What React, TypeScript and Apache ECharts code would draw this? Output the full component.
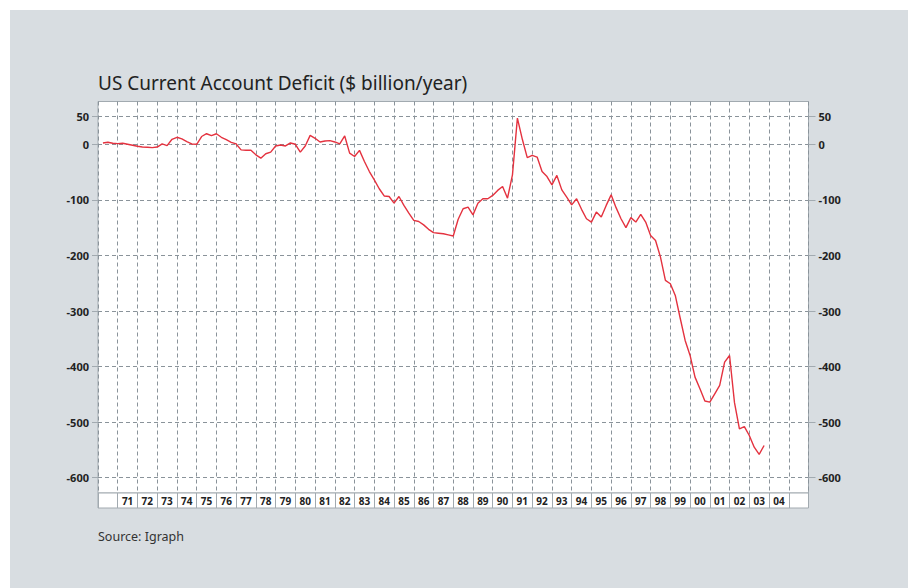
import React, { useEffect, useRef } from "react";
import * as echarts from "echarts";

// Quarterly US current account balance, $ billion/year (annualised), 1970 Q1 .. 2003 Q3
const START_YEAR = 1970;
const deficitQuarterly: number[] = [
  2.4, 3.6, 1.8, 1.2, 1.8, 0, -1.8, -3.6, -4.8, -5.4,
  -6, -5, 0.6, -2.4, 9, 12.6, 9.6, 4.8, 0.6, 0,
  14, 19, 15.6, 19, 12.6, 8.4, 3.6, 0.6, -10, -10.8,
  -10.8, -19, -25, -17, -14, -3, -1.2, -3, 2.4, 0,
  -14, -3, 16, 10.8, 4.2, 6, 6.6, 4.2, 0.6, 15,
  -16, -22, -11, -31, -49, -64, -80, -93, -94, -106,
  -94, -110, -124, -137, -139, -145, -153, -159, -160, -161,
  -163, -165, -135, -116, -113, -127, -106, -98, -98, -92,
  -83, -76, -97, -55, 47, 9, -24, -20, -23, -49,
  -58, -73, -56, -82, -95, -109, -98, -117, -134, -140,
  -122, -131, -110, -91, -114, -134, -150, -132, -140, -126,
  -140, -164, -173, -203, -245, -251, -272, -313, -353, -380,
  -419, -440, -462, -464, -449, -434, -392, -380, -465, -512,
  -508, -524, -545, -558, -542,
];

const yTickValues = [50, 0, -100, -200, -300, -400, -500, -600];
const yearLabels = [
  "", "71", "72", "73", "74", "75", "76", "77", "78", "79", "80",
  "81", "82", "83", "84", "85", "86", "87", "88", "89", "90",
  "91", "92", "93", "94", "95", "96", "97", "98", "99", "00",
  "01", "02", "03", "04", "",
];

const Y_MIN = -627.5;
const Y_MAX = 77;
const X_MIN = 1970;
const X_MAX = 2006;

export default function App() {
  const ref = useRef<HTMLDivElement>(null);

  useEffect(() => {
    if (!ref.current) return;
    const chart = echarts.init(ref.current, undefined, { renderer: "svg" });
    const gridColor = "#8a939a";
    const borderColor = "#a2aab0";
    const labelStyle = {
      color: "#222",
      fontSize: 11,
      fontWeight: "bold" as const,
      fontFamily: "Noto Sans",
    };
    const seriesData = deficitQuarterly.map((v, i) => [START_YEAR + (i + 1) / 4, v]);

    chart.setOption({
      animation: false,
      backgroundColor: "transparent",
      title: {
        text: "US Current Account Deficit ($ billion/year)",
        left: 98,
        top: 73,
        padding: 0,
        textStyle: {
          color: "#222",
          fontSize: 19,
          fontWeight: "normal",
          fontFamily: "Noto Sans",
        },
      },
      graphic: [
        {
          type: "text",
          left: 98,
          top: 530,
          style: {
            text: "Source: Igraph",
            fill: "#333",
            font: "12.5px 'Noto Sans'",
          },
        },
      ],
      grid: [
        {
          left: 98,
          top: 101.5,
          width: 710.5,
          height: 391.5,
          show: true,
          backgroundColor: "#ffffff",
          borderColor: borderColor,
          borderWidth: 1,
        },
        {
          left: 98,
          top: 493,
          width: 710.5,
          height: 15,
          show: true,
          backgroundColor: "#ffffff",
          borderColor: borderColor,
          borderWidth: 1,
        },
      ],
      xAxis: [
        {
          type: "value",
          gridIndex: 0,
          min: X_MIN,
          max: X_MAX,
          interval: 1,
          axisLine: { show: false },
          axisTick: { show: false },
          axisLabel: { show: false },
          splitLine: {
            show: true,
            lineStyle: { color: gridColor, type: [4, 3], width: 1 },
          },
        },
        {
          type: "category",
          gridIndex: 1,
          position: "top",
          data: yearLabels,
          boundaryGap: true,
          axisLine: { show: false },
          axisTick: { show: false },
          axisLabel: {
            inside: true,
            interval: 0,
            margin: 2.5,
            color: "#222",
            fontSize: 10,
            fontWeight: "bold",
            fontFamily: "Noto Sans",
          },
          splitLine: {
            show: true,
            interval: 0,
            lineStyle: { color: borderColor, type: "solid", width: 1 },
          },
        },
      ],
      yAxis: [
        {
          type: "value",
          gridIndex: 0,
          position: "left",
          min: Y_MIN,
          max: Y_MAX,
          axisLine: { show: false },
          axisTick: {
            show: true,
            length: 6,
            customValues: yTickValues,
            lineStyle: { color: borderColor },
          },
          axisLabel: {
            ...labelStyle,
            margin: 9,
            customValues: yTickValues,
          },
          splitLine: {
            show: true,
            lineStyle: { color: gridColor, type: [4, 3], width: 1 },
          },
        },
        {
          type: "value",
          gridIndex: 0,
          position: "right",
          min: Y_MIN,
          max: Y_MAX,
          axisLine: { show: false },
          axisTick: {
            show: true,
            length: 7,
            customValues: yTickValues,
            lineStyle: { color: borderColor },
          },
          axisLabel: {
            ...labelStyle,
            margin: 10,
            customValues: yTickValues,
          },
          splitLine: { show: false },
        },
        {
          type: "value",
          gridIndex: 1,
          show: false,
          min: 0,
          max: 1,
        },
      ],
      series: [
        {
          type: "line",
          xAxisIndex: 0,
          yAxisIndex: 0,
          data: seriesData,
          showSymbol: false,
          symbol: "none",
          lineStyle: { color: "#e4323f", width: 1.4 },
          z: 5,
        },
      ],
    });

    return () => chart.dispose();
  }, []);

  return (
    <div
      style={{
        position: "absolute",
        left: 0,
        top: 0,
        width: 908,
        height: 588,
        background: "#ffffff",
      }}
    >
      <div
        style={{
          position: "absolute",
          left: 10,
          top: 10,
          right: 0,
          bottom: 0,
          background: "#d8dde1",
        }}
      />
      <div
        ref={ref}
        style={{ position: "absolute", left: 0, top: 0, width: 908, height: 588 }}
      />
    </div>
  );
}
